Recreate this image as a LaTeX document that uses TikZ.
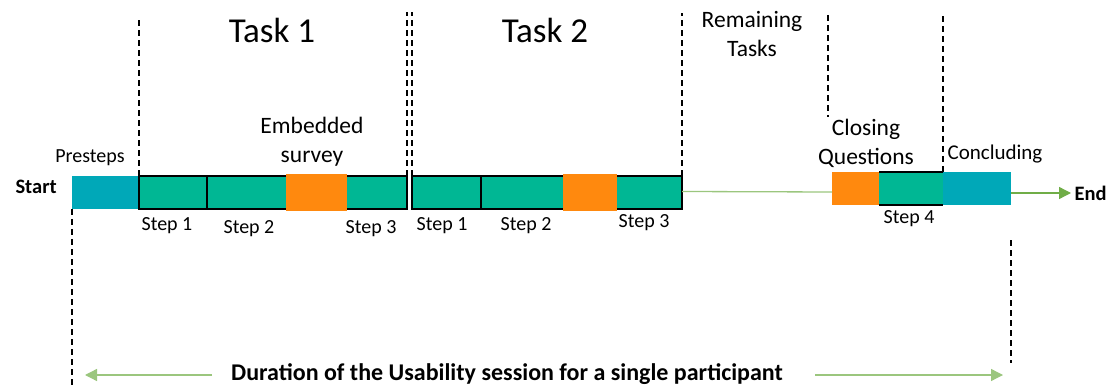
\documentclass[tikz,border=0pt]{standalone}
\usepackage{fontspec}
\setmainfont{Carlito}
\usepackage{tikz}
\usetikzlibrary{arrows.meta}

\definecolor{segcyan}{RGB}{0,168,184}
\definecolor{segteal}{RGB}{0,183,148}
\definecolor{segorange}{RGB}{255,137,14}
\definecolor{arrgreen}{RGB}{112,173,71}

\begin{document}
\begin{tikzpicture}[x=1pt,y=-1pt,
    seg/.style={inner sep=0pt, outer sep=0pt, minimum height=33pt, anchor=north west},
    teal/.style={seg, fill=segteal},
    orng/.style={seg, fill=segorange},
    cyan/.style={seg, fill=segcyan},
    guide/.style={dashed, dash pattern=on 6pt off 4pt, line width=1.3pt},
    frame/.style={line width=2.6pt},
    small/.style={font=\fontsize{20}{24}\selectfont},
    mid/.style={font=\fontsize{23.5}{29}\selectfont, align=center},
    big/.style={font=\fontsize{35}{40}\selectfont},
    bold/.style={font=\fontsize{20.5}{24}\selectfont\bfseries},
    arr/.style={arrgreen, line width=1.3pt, -{Triangle[length=12pt,width=12pt]}}]
    \useasboundingbox (0,0) rectangle (1107,387);

    % presteps
    \node[cyan, minimum width=67pt] (pre) at (72,176) {};
    % task 1
    \node[teal, minimum width=68pt] (t1a) at (139,176) {};
    \node[teal, minimum width=200pt] (t1b) at (207,176) {};
    \draw[frame] (t1a.north west) rectangle (t1b.south east);
    \draw[frame] (t1a.north east) -- (t1a.south east);
    \node[orng, minimum width=61pt, minimum height=37pt] (t1s) at (286,174) {};
    % task 2
    \node[teal, minimum width=69pt] (t2a) at (412,176) {};
    \node[teal, minimum width=201pt] (t2b) at (481,176) {};
    \draw[frame] (t2a.north west) rectangle (t2b.south east);
    \draw[frame] (t2a.north east) -- (t2a.south east);
    \node[orng, minimum width=54pt, minimum height=37pt] (t2s) at (563,174) {};
    % closing
    \node[orng, minimum width=47pt] (cq) at (832,172) {};
    \node[teal, minimum width=64pt] (s4) at (879,172) {};
    \draw[frame] (s4.north west) -- (s4.north east);
    \draw[frame] (s4.south west) -- (s4.south east);
    \node[cyan, minimum width=68pt] (conc) at (943,172) {};

    % start / end
    \node[bold, anchor=west] (start) at (12,187) {Start};
    \node[bold, anchor=west] (end) at (1071,193) {End};
    \draw[arrgreen!70, line width=1.3pt] (t2b.east) ++(0,-1) -- (cq.west |- 0,192);
    \draw[arr] (conc.east |- end) -- (end.west);

    % guides
    \draw[guide] (t1a.north west) -- (t1a.north west |- 0,17);
    \draw[guide] (t1b.north east) -- (t1b.north east |- 0,12);
    \draw[guide] (t2a.north west) -- (t2a.north west |- 0,12);
    \draw[guide] (t2b.north east) -- (t2b.north east |- 0,13);
    \coordinate (rt1) at (828,15);
    \coordinate (rt2) at (828,117);
    \draw[guide] (rt1) -- (rt2);
    \draw[guide] (s4.north east) -- (s4.north east |- 0,15);
    \draw[guide] (pre.south west) -- (pre.south west |- 0,387);
    \coordinate (ed1) at (1011,240);
    \coordinate (ed2) at (1011,363);
    \draw[guide] (ed1) -- (ed2);

    % labels
    \node[big] (task1) at (272,30) {Task 1};
    \node[big] (task2) at (545,30) {Task 2};
    \node[mid] (rem) at (752,34) {Remaining\\Tasks};
    \node[mid] (emb) at (312,142) {Embedded\\survey};
    \node[mid] (clo) at (866,143) {Closing\\Questions};
    \node[small] (prel) at (90,158) {Presteps};
    \node[small, font=\fontsize{21}{25}\selectfont] (concl) at (995,154) {Concluding};
    \node[small] (l11) at (167,226) {Step 1};
    \node[small] (l12) at (249,229) {Step 2};
    \node[small] (l13) at (371,229) {Step 3};
    \node[small] (l21) at (442,226) {Step 1};
    \node[small] (l22) at (526,226) {Step 2};
    \node[small] (l23) at (644,223) {Step 3};
    \node[small] (l4) at (909,219) {Step 4};

    % duration
    \node[bold, font=\fontsize{24}{28}\selectfont\bfseries] (dur) at (507,374) {Duration of the Usability session for a single participant};
    \coordinate (dl) at (212,375);
    \coordinate (dr) at (815,375);
    \draw[arr, arrgreen!70!white] (dl) -- (85,375);
    \draw[arr, arrgreen!70!white] (dr) -- (1003,375);
\end{tikzpicture}
\end{document}
